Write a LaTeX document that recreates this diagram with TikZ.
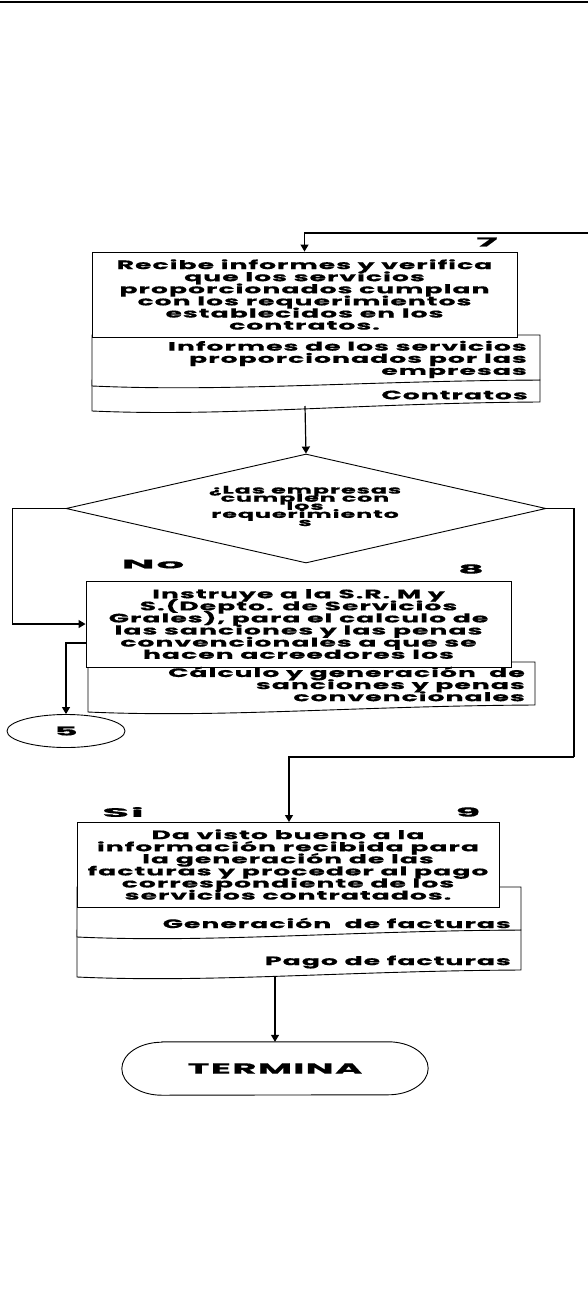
\documentclass[tikz,border=0pt]{standalone}
\usepackage{fontspec}
\newfontfamily\flowfont{Poppins}[FakeStretch=2.17,LetterSpace=8,FakeBold=0.5]
\usetikzlibrary{arrows.meta,shapes.geometric,calc}

% document sheet with a wavy lower edge: x0, top, x1, bottom-left, bottom-right
\newcommand{\docsheet}[5]{%
  \filldraw[sheet] (#1,#2) -- (#3,#2) -- (#3,#5)
    .. controls ({#1+0.6*(#3-#1)},{#5+1}) and ({#1+0.3*(#3-#1)},{#4+6}) .. (#1,#4) -- cycle;}
% wide label
\newcommand{\widetag}[2][1.5]{\scalebox{#1}[1]{#2}}
% lines set at their baselineskip even when glyphs collide
\newcommand{\tightlines}{\lineskiplimit=-20pt\relax\lineskip=0pt\relax}

\begin{document}
\begin{tikzpicture}[x=1pt,y=-1pt,
  txt/.style={font=\flowfont\bfseries\fontsize{12.3}{12.1}\selectfont\tightlines},
  stepbox/.style={draw,fill=white,line width=0.9pt,inner sep=0pt,align=center,txt},
  sheet/.style={draw,fill=white,line width=0.9pt},
  sheettext/.style={txt,align=right,anchor=east,inner sep=0pt},
  tag/.style={txt,inner sep=0pt},
  link/.style={line width=1.2pt},
  arrow/.style={link,-{Triangle[length=7pt,width=8pt]}}]
\useasboundingbox (0,0) rectangle (588,1300);
\fill[white] (0,0) rectangle (588,1300);
\draw[line width=2.4pt] (0,2.2) -- (588,2.2);

% ---- step 7 ----
\docsheet{92}{380}{540}{411}{402}
\docsheet{92}{335}{540}{386}{380}
\node[stepbox,minimum width=425,minimum height=85] (b1) at (304.5,294.5)
  {Recibe informes y verifica\\que los servicios\\proporcionados cumplan\\con los requerimientos\\establecidos en los\\contratos.};
\node[sheettext] (t1) at (527,359.5) {Informes de los servicios\\proporcionados por las\\empresas};
\node[sheettext] (t2) at (528,395) {Contratos};
\node[tag] (n7) at (487,242) {\widetag{7}};
\coordinate (in7) at (588,233);
\draw[arrow] (in7) -| (b1.north);

% ---- decision ----
\node[draw,fill=white,shape=diamond,aspect=4.4,inner sep=0pt,line width=0.9pt,
  minimum width=480,minimum height=109] (dia) at (306,508.5) {};
\node[inner sep=0pt,align=center,
  font=\flowfont\bfseries\fontsize{11}{8.1}\selectfont\tightlines] (ask) at (305,506)
  {¿Las empresas\\cumplen con\\los\\requerimiento\\s};
\coordinate (d2b) at (305,406);
\draw[arrow] (d2b) -- (dia.north);

% ---- step 8 ----
\docsheet{88}{662}{535}{712}{705}
\node[stepbox,minimum width=425,minimum height=86] (b2) at (298.5,624)
  {Instruye a la S.R. M y\\S.(Depto. de Servicios\\Grales), para el calculo de\\las sanciones y las penas\\convencionales a que se\\hacen acreedores los};
\node[sheettext] (t3) at (525,684) {Cálculo y generación \ de\\sanciones y penas\\convencionales};
\node[tag] (no) at (153,564) {\widetag[1.65]{No}};
\node[tag] (n8) at (471,569) {\widetag{8}};
\draw[arrow] (dia.west) -- ++(-53,0) |- (b2.west);

\node[draw,ellipse,inner sep=0pt,minimum width=118,minimum height=33,line width=0.9pt,txt] (c5) at (66,731) {\widetag[1.35]{5}};
\coordinate (b2out) at (86,643);
\draw[arrow] (b2out) -| (c5.north);

% ---- step 9 ----
\coordinate (yesturn) at (574,757);
\draw[link] (dia.east) -| (yesturn);
\draw[arrow] (yesturn) -| (289,822);
\docsheet{77}{930}{521}{977}{970}
\docsheet{77}{887}{521}{937}{930}
\node[stepbox,minimum width=422,minimum height=85] (b3) at (288,864.5)
  {Da visto bueno a la\\información recibida para\\la generación de las\\facturas y proceder al pago\\correspondiente de los\\servicios contratados.};
\node[sheettext] (t4) at (511,923) {Generación \ de facturas};
\node[sheettext] (t5) at (511,962) {Pago de facturas};
\node[tag] (si) at (123,812) {\widetag[1.65]{Si}};
\node[tag] (n9) at (468,812) {\widetag{9}};

% ---- end ----
\node[minimum width=306,minimum height=53,inner sep=0pt,
  font=\flowfont\bfseries\fontsize{14.5}{14}\selectfont] (term) at (275,1068.5) {\widetag[1.18]{TERMINA}};
\draw[line width=0.9pt] ($(term.north west)+(40,0)$) -- ($(term.north east)+(-40,0)$)
  arc[start angle=90,end angle=-90,x radius=40pt,y radius=26.5pt]
  -- ($(term.south west)+(40,0)$)
  arc[start angle=270,end angle=90,x radius=40pt,y radius=26.5pt] -- cycle;
\coordinate (d5b) at (275,976);
\draw[arrow] (d5b) -- (term.north);
\end{tikzpicture}
\end{document}
